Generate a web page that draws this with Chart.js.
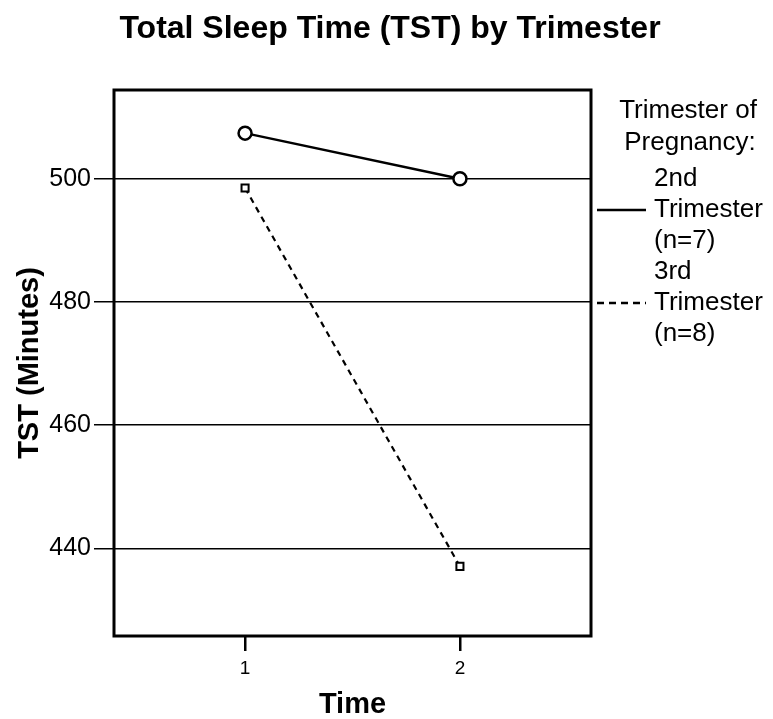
<!DOCTYPE html>
<html>
<head>
<meta charset="utf-8">
<script src="https://cdn.jsdelivr.net/npm/chart.js@4/dist/chart.umd.min.js"></script>
<style>
  html, body { margin: 0; padding: 0; background: #fff; }
  #wrap { width: 773px; height: 719px; }
</style>
</head>
<body>
<div id="wrap"><canvas id="c" width="773" height="719"></canvas></div>
<script>
const chartTitle = "Total Sleep Time (TST) by Trimester";
const timePoints = [1, 2];
const xTickLabels = ["1", "2"];
const yTickValues = [440, 460, 480, 500];
const secondTrimester = [507.4, 500.0];
const thirdTrimester = [498.5, 437.1];
const seriesNames = [["2nd", "Trimester", "(n=7)"], ["3rd", "Trimester", "(n=8)"]];
const legendTitle = ["Trimester of", "Pregnancy:"];
const xAxisTitle = "Time";
const yAxisTitle = "TST (Minutes)";

const FONT = "'Liberation Sans', Arial, sans-serif";

const toPts = (vals) => timePoints.map((t, i) => ({ x: t, y: vals[i] }));

const decor = {
  id: 'decor',
  afterDraw(chart) {
    const ctx = chart.ctx;
    const a = chart.chartArea;
    ctx.save();
    // plot frame
    ctx.strokeStyle = '#000';
    ctx.lineWidth = 3;
    ctx.strokeRect(a.left, a.top, a.right - a.left, a.bottom - a.top);
    // main title
    ctx.fillStyle = '#000';
    ctx.font = "bold 32px " + FONT;
    ctx.textAlign = 'center';
    ctx.textBaseline = 'middle';
    ctx.fillText(chartTitle, 390, 29);
    // legend
    ctx.font = "26px " + FONT;
    ctx.fillText(legendTitle[0], 688, 111);
    ctx.fillText(legendTitle[1], 690, 143);
    ctx.textAlign = 'left';
    const rows = [[179, 210, 241], [272, 303, 334]];
    seriesNames.forEach((lines, s) => {
      lines.forEach((txt, j) => ctx.fillText(txt, 654, rows[s][j]));
      ctx.beginPath();
      ctx.lineWidth = 2.5;
      ctx.setLineDash(s === 0 ? [] : [7, 5]);
      ctx.moveTo(597, rows[s][1]);
      ctx.lineTo(646, rows[s][1]);
      ctx.stroke();
    });
    ctx.restore();
  }
};

new Chart(document.getElementById('c'), {
  type: 'line',
  data: {
    datasets: [
      {
        label: seriesNames[0].join(' '),
        data: toPts(secondTrimester),
        borderColor: '#000',
        borderWidth: 2.5,
        pointStyle: 'circle',
        pointRadius: 6.5,
        pointBorderWidth: 2.5,
        pointBackgroundColor: '#fff',
        pointBorderColor: '#000',
        fill: false,
        tension: 0
      },
      {
        label: seriesNames[1].join(' '),
        data: toPts(thirdTrimester),
        borderColor: '#000',
        borderWidth: 2.2,
        borderDash: [6, 5],
        pointStyle: 'rect',
        pointRadius: 5,
        pointBorderWidth: 2,
        pointBackgroundColor: '#fff',
        pointBorderColor: '#000',
        fill: false,
        tension: 0
      }
    ]
  },
  options: {
    responsive: false,
    animation: false,
    devicePixelRatio: 1,
    layout: { padding: { top: 90, right: 182, left: 0, bottom: 0 } },
    plugins: {
      legend: { display: false },
      tooltip: { enabled: false },
      title: { display: false }
    },
    scales: {
      x: {
        type: 'linear',
        min: 0.39,
        max: 2.61,
        afterBuildTicks(s) { s.ticks = timePoints.map(v => ({ value: v })); },
        afterFit(s) { s.height = 83; },
        ticks: {
          color: '#000',
          font: { family: FONT, size: 19 },
          padding: 6,
          maxRotation: 0,
          callback: (v) => xTickLabels[timePoints.indexOf(v)] ?? ''
        },
        grid: { drawOnChartArea: false, drawTicks: true, tickLength: 15, color: '#000', lineWidth: 2.5 },
        border: { display: false },
        title: {
          display: true, text: xAxisTitle, color: '#000',
          font: { family: FONT, size: 29, weight: 'bold', lineHeight: 1 },
          padding: { top: 0, bottom: 0 }
        }
      },
      y: {
        type: 'linear',
        min: 425.8,
        max: 514.4,
        afterBuildTicks(s) { s.ticks = yTickValues.map(v => ({ value: v })); },
        afterFit(s) { s.width = 114; },
        ticks: {
          color: '#000',
          font: { family: FONT, size: 25 },
          padding: 3
        },
        grid: { drawOnChartArea: true, drawTicks: true, tickLength: 20, color: '#000', lineWidth: 1.5 },
        border: { display: false },
        title: {
          display: true, text: yAxisTitle, color: '#000',
          font: { family: FONT, size: 29, weight: 'bold', lineHeight: 1 },
          padding: { top: 15, bottom: 0 }
        }
      }
    }
  },
  plugins: [decor]
});
</script>
</body>
</html>
